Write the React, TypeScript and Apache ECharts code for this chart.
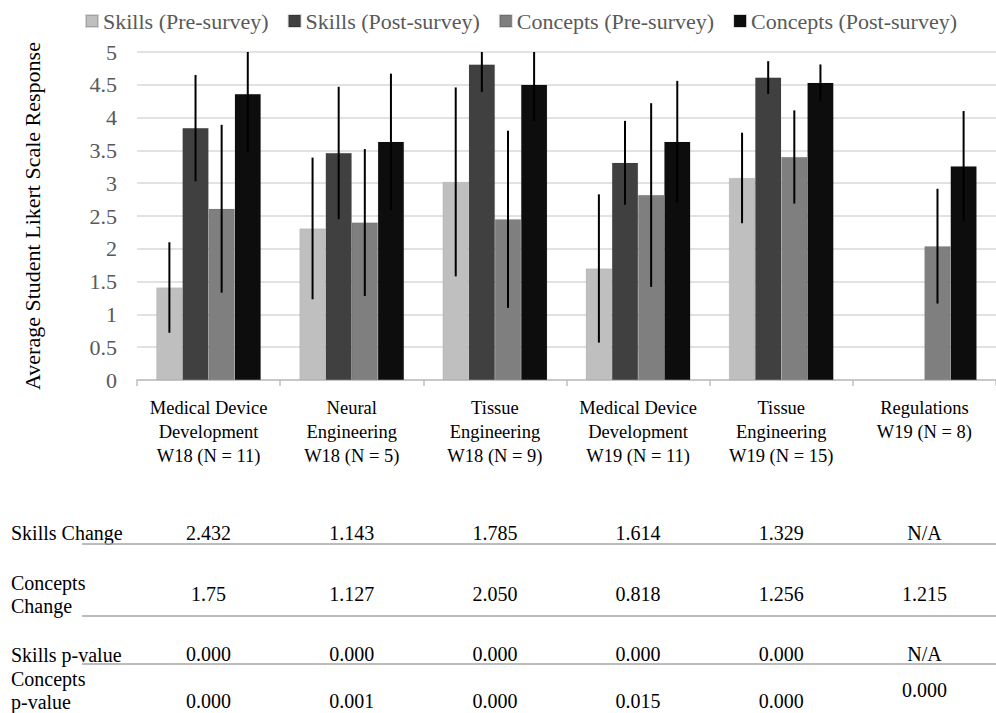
import React, { useEffect, useRef } from "react";
import * as echarts from "echarts";

const FONT = "'Liberation Serif', 'Times New Roman', serif";

const categories = [
  "Medical Device\nDevelopment\nW18 (N = 11)",
  "Neural\nEngineering\nW18 (N = 5)",
  "Tissue\nEngineering\nW18 (N = 9)",
  "Medical Device\nDevelopment\nW19 (N = 11)",
  "Tissue\nEngineering\nW19 (N = 15)",
  "Regulations\nW19 (N = 8)",
];

const seriesNames = [
  "Skills (Pre-survey)",
  "Skills (Post-survey)",
  "Concepts (Pre-survey)",
  "Concepts (Post-survey)",
];
const seriesColors = ["#BFBFBF", "#404040", "#7F7F7F", "#0D0D0D"];

const skillsPre = [1.41, 2.31, 3.02, 1.7, 3.08, null];
const skillsPost = [3.84, 3.46, 4.81, 3.31, 4.61, null];
const conceptsPre = [2.61, 2.4, 2.45, 2.82, 3.4, 2.04];
const conceptsPost = [4.36, 3.63, 4.5, 3.63, 4.53, 3.26];

const skillsPreErr = [0.69, 1.08, 1.44, 1.13, 0.69, null];
const skillsPostErr = [0.81, 1.01, 0.42, 0.64, 0.25, null];
const conceptsPreErr = [1.28, 1.12, 1.35, 1.4, 0.71, 0.875];
const conceptsPostErr = [0.89, 1.04, 0.55, 0.93, 0.28, 0.84];

const yTicks = { min: 0, max: 5, interval: 0.5 };

const tableRowLabels = ["Skills Change", "Concepts\nChange", "Skills p-value", "Concepts\np-value"];
const skillsChange = ["2.432", "1.143", "1.785", "1.614", "1.329", "N/A"];
const conceptsChange = ["1.75", "1.127", "2.050", "0.818", "1.256", "1.215"];
const skillsPValue = ["0.000", "0.000", "0.000", "0.000", "0.000", "N/A"];
const conceptsPValue = ["0.000", "0.001", "0.000", "0.015", "0.000", "0.000"];

const barValues = [skillsPre, skillsPost, conceptsPre, conceptsPost];
const errValues = [skillsPreErr, skillsPostErr, conceptsPreErr, conceptsPostErr];
const tableRows = [skillsChange, conceptsChange, skillsPValue, conceptsPValue];

const BAR_CAT_GAP = 0.27;

export default function App() {
  const ref = useRef<HTMLDivElement>(null);

  useEffect(() => {
    if (!ref.current) return;
    const chart = echarts.init(ref.current, undefined, { renderer: "svg" });

    const barSeries = seriesNames.map((name, k) => ({
      name,
      type: "bar",
      data: barValues[k],
      barGap: "0%",
      barCategoryGap: BAR_CAT_GAP * 100 + "%",
      itemStyle: { color: seriesColors[k], borderColor: "rgba(0,0,0,0.15)", borderWidth: 0.5 },
      z: 2,
    }));

    const errSeries = seriesNames.map((name, k) => ({
      name: name + " error",
      type: "custom",
      z: 5,
      data: barValues[k]
        .map((v, i) =>
          v == null || errValues[k][i] == null
            ? null
            : [i, (v as number) - (errValues[k][i] as number), (v as number) + (errValues[k][i] as number)]
        )
        .filter((d) => d !== null),
      renderItem: (params: any, api: any) => {
        const x = api.value(0);
        const low = Math.max(yTicks.min, api.value(1));
        const high = Math.min(yTicks.max, api.value(2));
        const base = api.coord([x, 0]);
        const catW = api.size([1, 0])[0];
        const barW = (catW * (1 - BAR_CAT_GAP)) / 4;
        const cx = base[0] + (k - 1.5) * barW;
        const yl = api.coord([x, low])[1];
        const yh = api.coord([x, high])[1];
        return {
          type: "line",
          shape: { x1: cx, y1: yh, x2: cx, y2: yl },
          style: { stroke: "#000", lineWidth: 2 },
        };
      },
    }));

    chart.setOption({
      animation: false,
      textStyle: { fontFamily: FONT },
      legend: {
        data: seriesNames,
        left: 80,
        top: 5,
        itemWidth: 12,
        itemHeight: 12,
        itemGap: 19,
        icon: "rect",
        textStyle: { fontFamily: FONT, fontSize: 22, color: "#595959" },
      },
      grid: { left: 137, right: 0, top: 52, bottom: 333 },
      xAxis: {
        type: "category",
        data: categories,
        boundaryGap: true,
        axisLine: { show: true, lineStyle: { color: "#BFBFBF", width: 1.5 } },
        axisTick: { show: true, length: 6, lineStyle: { color: "#BFBFBF", width: 1.5 } },
        axisLabel: {
          interval: 0,
          fontFamily: FONT,
          fontSize: 18.5,
          lineHeight: 24,
          color: "#000",
          margin: 16,
        },
      },
      yAxis: {
        type: "value",
        min: yTicks.min,
        max: yTicks.max,
        interval: yTicks.interval,
        name: "Average Student Likert Scale Response",
        nameLocation: "middle",
        nameGap: 94,
        nameTextStyle: { fontFamily: FONT, fontSize: 22, color: "#000" },
        axisLine: { show: false },
        axisTick: { show: false },
        splitLine: { lineStyle: { color: "#D9D9D9", width: 1.5 } },
        axisLabel: { fontFamily: FONT, fontSize: 22, color: "#595959", margin: 20 },
      },
      series: [...barSeries, ...errSeries],
    });

    // Table below the chart, aligned with category columns
    const centers = categories.map((_, i) => chart.convertToPixel({ xAxisIndex: 0 }, i) as number);
    const width = ref.current.clientWidth;
    const rowY = [533, 594, 654, 701];
    const labelY = [533, 594, 655, 690];
    const lineY = [544, 616, 664];
    const elements: any[] = [];
    tableRowLabels.forEach((label, r) => {
      elements.push({
        type: "text",
        style: {
          text: label,
          x: 11,
          y: labelY[r],
          fontFamily: FONT,
          fontSize: 20,
          lineHeight: 23,
          fill: "#000",
          verticalAlign: "middle",
          align: "left",
        },
      });
      tableRows[r].forEach((val, i) => {
        const y = r === 3 && i === categories.length - 1 ? 690 : rowY[r];
        elements.push({
          type: "text",
          style: {
            text: val,
            x: centers[i],
            y,
            fontFamily: FONT,
            fontSize: 20,
            fill: "#000",
            align: "center",
            verticalAlign: "middle",
          },
        });
      });
    });
    lineY.forEach((y) => {
      elements.push({
        type: "line",
        shape: { x1: 82, y1: y, x2: width, y2: y },
        style: { stroke: "#A6A6A6", lineWidth: 1.5 },
      });
    });
    chart.setOption({ graphic: { elements } });

    return () => chart.dispose();
  }, []);

  return (
    <div
      ref={ref}
      style={{ position: "fixed", left: 0, top: 0, width: 996, height: 713, background: "#fff" }}
    />
  );
}
